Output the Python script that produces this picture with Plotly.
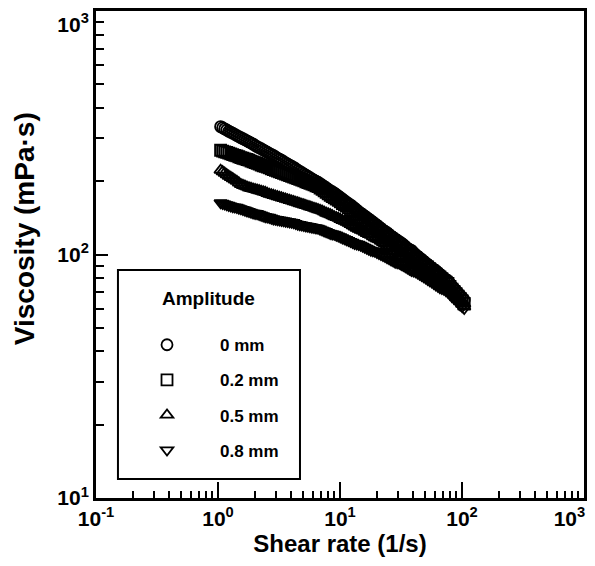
import plotly.graph_objects as go

# ---- data ----
shear_rate = [1.050, 1.091, 1.134, 1.178, 1.224, 1.272, 1.321, 1.373, 1.427, 1.482,
              1.540, 1.600, 1.663, 1.728, 1.795, 1.865, 1.938, 2.014, 2.092, 2.174,
              2.259, 2.347, 2.439, 2.534, 2.633, 2.736, 2.843, 2.954, 3.069, 3.189,
              3.314, 3.443, 3.578, 3.717, 3.862, 4.013, 4.170, 4.333, 4.502, 4.678,
              4.860, 5.050, 5.248, 5.453, 5.665, 5.887, 6.117, 6.355, 6.604, 6.861,
              7.129, 7.408, 7.697, 7.998, 8.310, 8.635, 8.972, 9.322, 9.687, 10.06,
              10.46, 10.87, 11.29, 11.73, 12.19, 12.67, 13.16, 13.68, 14.21, 14.77,
              15.34, 15.94, 16.57, 17.21, 17.89, 18.59, 19.31, 20.07, 20.85, 21.66,
              22.51, 23.39, 24.31, 25.26, 26.24, 27.27, 28.33, 29.44, 30.59, 31.79,
              33.03, 34.32, 35.66, 37.05, 38.50, 40.00, 41.57, 43.19, 44.88, 46.63,
              48.45, 50.35, 52.31, 54.36, 56.48, 58.69, 60.98, 63.37, 65.84, 68.41,
              71.08, 73.86, 76.75, 79.75, 82.87, 86.11, 89.47, 92.97, 96.60, 100.4,
              104.3]

visc_0mm = [335, 331.5, 328, 324.5, 321, 318, 315, 311.5, 308, 305,
            302, 299, 296, 293, 290, 287, 284, 280.5, 277, 274.5,
            272, 269, 266, 263, 260, 257.5, 255, 252, 249, 246.5,
            244, 241, 238, 235.5, 233, 230.5, 228, 225, 222, 219.5,
            217, 214.5, 212, 209.5, 207, 204.5, 202, 200, 198, 195.5,
            193, 190.5, 188, 185.5, 183, 181, 179, 176.5, 174, 171.5,
            169, 166.5, 164, 162, 160, 157.5, 155, 152.5, 150, 148,
            146, 144, 142, 140, 138, 136, 134, 132, 130, 128,
            126, 124.5, 123, 121, 119, 117.5, 116, 114.5, 113, 111.5,
            110, 108, 106, 105, 104, 102, 100, 98.5, 97, 95.5,
            94, 92.5, 91, 89.5, 88, 87, 86, 84.5, 83, 81.5,
            80, 79, 78, 76, 74, 72.5, 71, 69.5, 68, 66.5,
            65]

visc_02mm = [268, 266, 264, 262.5, 261, 259, 257, 255.5, 254, 252,
             250, 248.5, 247, 245.5, 244, 242, 240, 238.5, 237, 235,
             233, 231.5, 230, 228.5, 227, 225, 223, 221.5, 220, 218.5,
             217, 215.5, 214, 212.5, 211, 209.5, 208, 206.5, 205, 203.5,
             202, 200.5, 199, 197.5, 196, 194.5, 193, 191.5, 190, 187.5,
             185, 182.5, 180, 177.5, 175, 173, 171, 169, 167, 164.5,
             162, 160, 158, 155.5, 153, 151, 149, 147, 145, 143,
             141, 139, 137, 135, 133, 131, 129, 127.5, 126, 124,
             122, 120.5, 119, 117.5, 116, 114, 112, 110.5, 109, 107.5,
             106, 104.5, 103, 101.5, 100, 98.5, 97, 95.5, 94, 92.5,
             91, 90, 89, 87.5, 86, 84.5, 83, 82, 81, 79.5,
             78, 77, 76, 74, 72, 70.5, 69, 67.5, 66, 64.5,
             63]

visc_05mm = [222, 219, 216, 213, 210, 207.5, 205, 202.5, 200, 197,
             194, 192.5, 191, 189.5, 188, 187, 186, 185, 184, 183,
             182, 181, 180, 178.5, 177, 176, 175, 174, 173, 172,
             171, 170, 169, 168, 167, 166, 165, 164, 163, 162,
             161, 160, 159, 158, 157, 156, 155, 154, 153, 152,
             151, 149.5, 148, 147, 146, 144.5, 143, 142, 141, 139.5,
             138, 137, 136, 134.5, 133, 131.5, 130, 128.5, 127, 126,
             125, 123.5, 122, 121, 120, 118.5, 117, 116, 115, 113.5,
             112, 110.5, 109, 108, 107, 105.5, 104, 103, 102, 100.5,
             99, 98, 97, 95.5, 94, 92.5, 91, 90, 89, 87.5,
             86, 85, 84, 83, 82, 80.5, 79, 78, 77, 76,
             75, 74, 73, 71.5, 70, 68.5, 67, 65.5, 64, 62.5,
             61]

visc_08mm = [163, 162, 161, 160, 159, 158, 157, 156.5, 156, 155,
             154, 153, 152, 151, 150, 149, 148, 147.5, 147, 146,
             145, 144, 143, 142.5, 142, 141, 140, 139.5, 139, 138.5,
             138, 137.5, 137, 136.5, 136, 135.5, 135, 134, 133, 132.5,
             132, 131.5, 131, 130.5, 130, 129.5, 129, 128.5, 128, 127,
             126, 125, 124, 123, 122, 121.5, 121, 120, 119, 118,
             117, 116, 115, 114, 113, 112, 111, 110.5, 110, 109,
             108, 107, 106, 105, 104, 103.5, 103, 102, 101, 100,
             99, 98, 97, 96, 95, 94, 93, 92.5, 92, 91,
             90, 89, 88, 87, 86, 85.5, 85, 84, 83, 82,
             81, 80, 79, 78, 77, 76, 75, 74, 73, 72.5,
             72, 71, 70, 68.5, 67, 66, 65, 63.5, 62, 61,
             60]

series_names = ["0 mm", "0.2 mm", "0.5 mm", "0.8 mm"]
series_symbols = ["circle-open", "square-open", "triangle-up-open", "triangle-down-open"]
series_values = [visc_0mm, visc_02mm, visc_05mm, visc_08mm]

x_tick_vals = [0.1, 1, 10, 100, 1000]
x_tick_text = ["<b>10<sup>-1</sup></b>", "<b>10<sup>0</sup></b>", "<b>10<sup>1</sup></b>",
               "<b>10<sup>2</sup></b>", "<b>10<sup>3</sup></b>\u00a0\u00a0\u00a0\u00a0\u00a0"]
y_tick_vals = [10, 100, 1000]
y_tick_text = ["<b>10<sup>1</sup></b>", "<b>10<sup>2</sup></b>", "<br><b>10<sup>3</sup></b>"]

FONT = "Liberation Sans, Arial, sans-serif"

fig = go.Figure()
for name, sym, vals in zip(series_names, series_symbols, series_values):
    fig.add_trace(go.Scatter(
        x=shear_rate[:len(vals)], y=vals, mode="markers", name="<b>" + name + "</b>",
        legendgroup=name,
        marker=dict(symbol=sym, size=11, color="black", line=dict(color="black", width=1.8)),
    ))

minor_x = [k * 10 ** e for e in range(-1, 3) for k in range(2, 10)]
minor_y = [k * 10 ** e for e in range(1, 3) for k in range(2, 10)]

# the page body has an 8 px default margin, so the figure is sized to fit the window
fig.update_layout(
    width=579, height=550,
    margin=dict(l=88, r=3, t=3, b=60),
    paper_bgcolor="white", plot_bgcolor="white",
    font=dict(family=FONT, color="black"),
    showlegend=True,
    legend=dict(
        x=0.0369, y=0.4415, xanchor="left", yanchor="top",
        bgcolor="rgba(0,0,0,0)", borderwidth=0,
        font=dict(size=17, family=FONT, color="black"),
        title=dict(text="\u00a0\u00a0\u00a0\u00a0<b><span style='font-size:19px'>Amplitude</span></b><br> ",
                   font=dict(size=17, family=FONT), side="top center"),
        tracegroupgap=10, itemwidth=96,
    ),
    shapes=[dict(type="rect", xref="paper", yref="paper",
                 x0=0.045, x1=0.418, y0=0.039, y1=0.468,
                 line=dict(color="black", width=2), fillcolor="rgba(0,0,0,0)")],
    annotations=[dict(text="<b>Viscosity (mPa·s)</b>", xref="paper", yref="paper",
                      x=-0.1475, y=0.552, xanchor="center", yanchor="middle",
                      textangle=-90, showarrow=False,
                      font=dict(size=28, family=FONT, color="black"))],
)

fig.update_xaxes(
    type="log", range=[-1, 3], automargin=False, ticklabeloverflow="allow",
    tickvals=x_tick_vals, ticktext=x_tick_text,
    ticks="inside", ticklen=16, tickwidth=2, tickcolor="black",
    showline=True, linewidth=3, linecolor="black", mirror=True,
    showgrid=False, zeroline=False,
    tickfont=dict(size=21, family=FONT),
    minor=dict(tickvals=minor_x, ticks="inside", ticklen=7, tickwidth=2, tickcolor="black", showgrid=False),
    title=dict(text="<b>Shear rate (1/s)</b>", font=dict(size=24, family=FONT), standoff=5),
)
fig.update_yaxes(
    type="log", range=[1, 3], automargin=False, ticklabeloverflow="allow",
    tickvals=y_tick_vals, ticktext=y_tick_text,
    ticks="inside", ticklen=12, tickwidth=2, tickcolor="black",
    showline=True, linewidth=3, linecolor="black", mirror=True,
    showgrid=False, zeroline=False,
    tickfont=dict(size=21, family=FONT),
    minor=dict(tickvals=minor_y, ticks="inside", ticklen=8, tickwidth=2, tickcolor="black", showgrid=False),
)

fig.write_html("out.html")
